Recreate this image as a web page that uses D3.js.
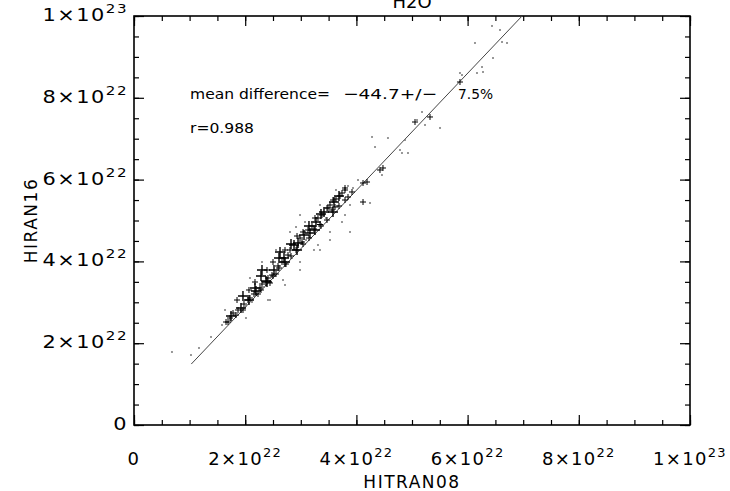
<!DOCTYPE html>
<html lang="en">
<head>
<meta charset="UTF-8">
<title>H2O</title>
<script src="https://d3js.org/d3.v7.min.js"></script>
<style>
    body { margin: 0; background: #fff; }
    text { font-family: "DejaVu Sans", sans-serif; fill: #000; }
</style>
</head>
<body>
<svg width="730" height="491"></svg>
<script>
// values in units of 1e22
const hitran08 = [0.683,1.025,1.169,1.385,1.583,1.655,1.727,1.781,1.835,1.871,1.924,1.978,2.014,2.050,2.086,2.122,2.158,2.194,2.230,2.266,
    2.302,2.338,2.374,2.410,2.446,2.482,2.518,2.554,2.590,2.626,2.662,2.698,2.734,2.770,2.806,2.842,2.878,2.914,2.950,2.986,
    3.022,3.058,3.094,3.129,3.165,3.201,3.237,3.273,3.309,3.345,3.381,3.417,3.453,3.489,3.525,3.561,3.597,3.633,3.669,3.705,
    3.741,3.795,3.849,2.302,2.986,3.309,2.446,3.525,2.716,3.795,3.885,3.345,2.914,3.885,
    3.615,3.795,3.849,3.921,4.119,4.245,4.119,4.191,4.424,4.460,4.478,4.281,4.335,4.568,4.784,4.820,4.928,4.874,
    5.054,5.090,5.234,5.324,5.180,5.504,5.863,5.899,6.169,6.277,6.133,6.259,6.457,6.709,5.863,6.619,6.439,6.583,
    1.691,1.745,1.853,1.853,1.960,1.960,2.068,2.068,2.176,2.176,2.176,2.284,2.284,2.392,2.392,2.500,2.500,
    2.608,2.608,2.716,2.716,2.824,2.824,2.932,2.932,3.040,3.040,3.147,3.147,3.255,3.255,3.363,3.363,
    3.471,3.471,3.579,3.579,3.687,3.687,3.795,
    2.086,2.302,2.554,2.806,3.076,3.345,3.633,2.014,2.410,2.680,2.986,3.237,3.525,3.741,1.637,3.939,4.029,2.986];
const hiran16 = [1.785,1.711,1.883,2.152,2.445,2.518,2.616,2.738,2.689,2.812,2.861,2.958,2.910,3.056,3.105,3.007,3.203,3.276,3.203,3.350,
    3.447,3.374,3.521,3.594,3.472,3.667,3.790,3.692,3.888,4.230,3.985,4.083,3.936,4.156,4.279,4.083,4.401,4.279,4.450,4.572,
    4.474,4.645,4.523,4.768,4.694,4.866,4.792,4.963,5.061,4.902,5.134,5.208,5.061,5.306,5.379,5.257,5.452,5.526,5.355,5.599,
    5.672,5.746,5.844,3.790,3.790,4.401,3.056,4.523,3.423,5.134,5.379,4.279,4.841,4.719,
    5.330,5.501,5.575,5.697,5.452,5.428,5.917,5.941,6.235,6.112,6.284,7.042,6.797,7.017,6.724,6.650,6.650,6.968,
    7.408,7.457,7.335,7.531,7.653,7.262,8.606,8.557,8.606,8.631,9.340,8.753,8.973,9.340,8.386,9.364,9.756,9.658,
    2.518,2.665,3.056,2.714,3.154,2.812,3.301,3.056,3.496,3.154,3.350,3.643,3.301,3.790,3.496,3.985,3.643,
    4.083,3.839,4.279,3.985,4.425,4.132,4.621,4.279,4.719,4.425,4.866,4.572,5.061,4.768,5.159,4.866,
    5.306,5.012,5.501,5.208,5.599,5.355,5.795,
    3.594,3.985,4.279,4.719,4.963,5.379,5.746,2.616,3.056,3.545,3.985,4.279,4.719,4.963,2.812,5.795,5.990,5.134];
// 0 = tiny dot, 1 = small plus, 2 = big plus
const markerSize = [0,0,0,0,0,1,1,1,1,1,2,1,0,1,1,0,1,2,1,1,
    1,0,2,1,1,1,2,1,1,2,1,2,1,1,1,0,2,1,2,1,
    1,2,0,1,2,1,1,2,1,1,1,2,0,1,1,1,2,1,0,1,
    1,1,0,2,0,0,0,0,0,0,0,0,0,0,
    1,1,1,1,1,0,1,1,1,0,1,0,0,0,0,0,0,0,
    1,0,0,1,0,0,0,0,0,0,0,0,0,0,1,0,0,0,
    1,2,1,0,2,1,1,2,1,0,2,2,1,1,2,1,1,
    2,1,1,2,2,1,1,2,1,1,2,1,1,2,2,1,
    1,1,1,2,2,1,1,
    0,0,0,0,0,0,0,0,0,0,0,0,0,0,0,0,0,0];

const fitX = [1.03, 6.98];
const fitY = [1.49, 10.0];

const majorTicks = [0, 2, 4, 6, 8, 10];
const minorTicks = d3.range(0, 10.01, 0.5);

const svg = d3.select("svg");
const pLeft = 134, pRight = 690, pTop = 16, pBottom = 425;

const x = d3.scaleLinear().domain([0, 10]).range([pLeft, pRight]);
const y = d3.scaleLinear().domain([0, 10]).range([pBottom, pTop]);

// frame + ticks (all ticks point inward)
function axes(len, values) {
    svg.append("g").attr("transform", `translate(0,${pBottom})`)
        .call(d3.axisBottom(x).tickValues(values).tickSize(-len).tickFormat("").tickSizeOuter(0));
    svg.append("g").attr("transform", `translate(0,${pTop})`)
        .call(d3.axisTop(x).tickValues(values).tickSize(-len).tickFormat("").tickSizeOuter(0));
    svg.append("g").attr("transform", `translate(${pLeft},0)`)
        .call(d3.axisLeft(y).tickValues(values).tickSize(-len).tickFormat("").tickSizeOuter(0));
    svg.append("g").attr("transform", `translate(${pRight},0)`)
        .call(d3.axisRight(y).tickValues(values).tickSize(-len).tickFormat("").tickSizeOuter(0));
}
axes(5, minorTicks);
axes(10, majorTicks);
svg.selectAll(".domain").remove();
svg.selectAll(".tick line").attr("stroke", "#000").attr("stroke-width", 1.2);

svg.append("rect")
    .attr("x", pLeft).attr("y", pTop)
    .attr("width", pRight - pLeft).attr("height", pBottom - pTop)
    .attr("fill", "none").attr("stroke", "#000").attr("stroke-width", 1.6);

function tickLabel(sel, v) {
    if (v === 0) { sel.text("0"); return; }
    const mant = v === 10 ? "1" : String(v);
    const exp = v === 10 ? "23" : "22";
    sel.append("tspan").text(mant + "×10");
    sel.append("tspan").attr("dy", -8).attr("font-size", 13).text(exp);
}

svg.append("g").selectAll("text")
    .data(majorTicks).enter().append("text")
    .attr("x", d => x(d)).attr("y", 465)
    .attr("text-anchor", "middle")
    .attr("font-size", 18).attr("letter-spacing", 1.3)
    .each(function(d) { tickLabel(d3.select(this), d); });

// y labels: same font, stretched a little wider as in the reference
svg.append("g").selectAll("text")
    .data(majorTicks).enter().append("text")
    .attr("transform", d => `translate(128,${y(d) + 5}) scale(1.16,1)`)
    .attr("text-anchor", "end")
    .attr("font-size", 18).attr("letter-spacing", 1.3)
    .each(function(d) { tickLabel(d3.select(this), d); });

// axis titles
svg.append("text").attr("x", (pLeft + pRight) / 2).attr("y", 488)
    .attr("text-anchor", "middle").attr("font-size", 17).attr("letter-spacing", 1.5)
    .text("HITRAN08");
svg.append("text")
    .attr("transform", `translate(37,${(pTop + pBottom) / 2}) rotate(-90)`)
    .attr("text-anchor", "middle").attr("font-size", 17).attr("letter-spacing", 1.5)
    .text("HIRAN16");
svg.append("text").attr("x", (pLeft + pRight) / 2).attr("y", 8)
    .attr("text-anchor", "middle").attr("font-size", 18)
    .text("H2O");

// fit line
svg.append("clipPath").attr("id", "plotclip")
    .append("rect").attr("x", pLeft).attr("y", pTop)
    .attr("width", pRight - pLeft).attr("height", pBottom - pTop);

svg.append("line")
    .attr("clip-path", "url(#plotclip)")
    .attr("x1", x(fitX[0])).attr("y1", y(fitY[0]))
    .attr("x2", x(fitX[1])).attr("y2", y(fitY[1]))
    .attr("stroke", "#444").attr("stroke-width", 1);

// points
const pts = hitran08.map((v, i) => ({ x: v, y: hiran16[i], s: markerSize[i] }));
const half = [1, 3, 5];
const g = svg.append("g").attr("clip-path", "url(#plotclip)");
pts.forEach(p => {
    const cx = x(p.x), cy = y(p.y), h = half[p.s];
    const col = p.s === 0 ? "#777" : "#000";
    g.append("path")
        .attr("d", `M${cx - h},${cy}H${cx + h}M${cx},${cy - h}V${cy + h}`)
        .attr("stroke", col).attr("stroke-width", p.s === 2 ? 1.4 : 1)
        .attr("fill", "none");
});

// annotation
const ann = svg.append("g").attr("font-size", 14.5);
ann.append("text").attr("x", 190).attr("y", 98.5).attr("textLength", 140)
    .attr("lengthAdjust", "spacingAndGlyphs").text("mean difference=");
ann.append("text").attr("x", 343).attr("y", 98.5).attr("textLength", 94)
    .attr("lengthAdjust", "spacingAndGlyphs").text("−44.7+/−");
ann.append("text").attr("x", 458).attr("y", 98.5).attr("textLength", 35)
    .attr("lengthAdjust", "spacingAndGlyphs").text("7.5%");
ann.append("text").attr("x", 190).attr("y", 133).attr("textLength", 64)
    .attr("lengthAdjust", "spacingAndGlyphs").text("r=0.988");
</script>
</body>
</html>
